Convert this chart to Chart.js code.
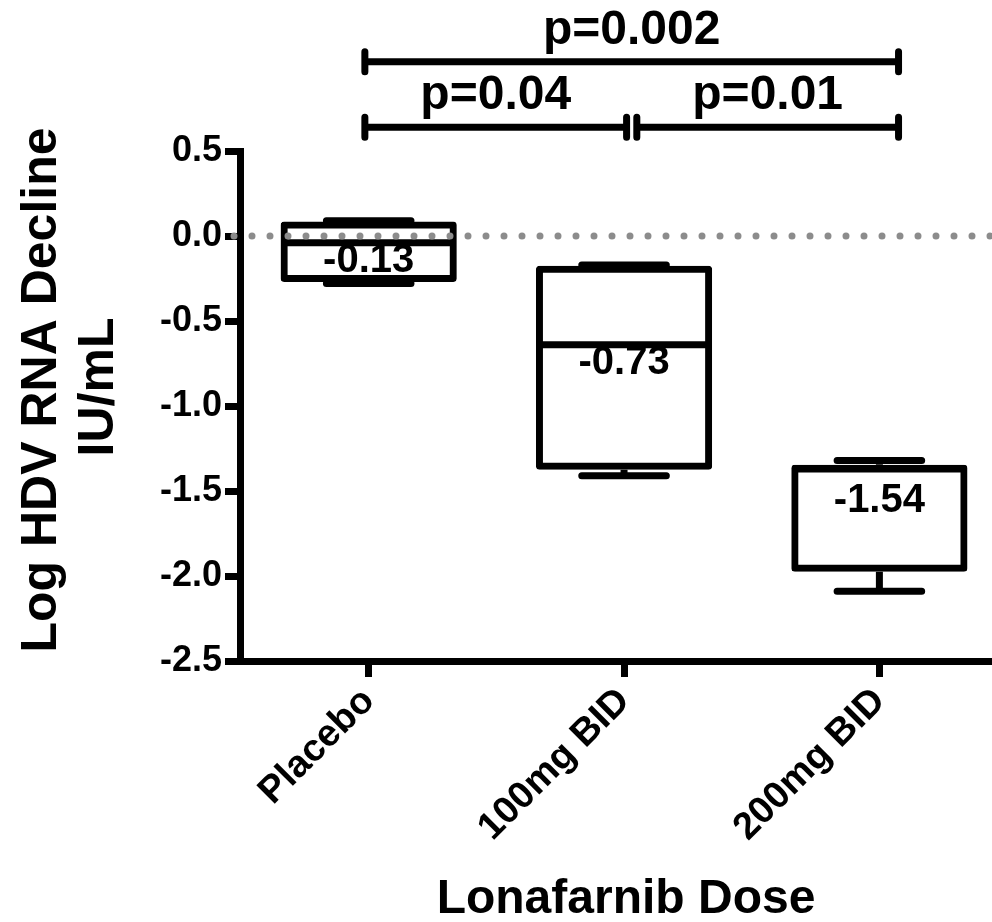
<!DOCTYPE html>
<html>
<head>
<meta charset="utf-8">
<script src="https://cdn.jsdelivr.net/npm/chart.js@4"></script>
<style>
    html, body { margin: 0; padding: 0; background: #fff; }
</style>
</head>
<body>
<canvas id="hdvChart" width="992" height="922"></canvas>
<script>
// Datos
const doses = ['Placebo', '100mg BID', '200mg BID'];
const whiskerMax = [0.09, -0.17, -1.32];
const boxTop = [0.085, -0.175, -1.345];
const medians = [-0.04, -0.64, -1.37];
const boxBottom = [-0.27, -1.375, -1.975];
const whiskerMin = [-0.28, -1.41, -2.09];
const means = [-0.13, -0.73, -1.54];

// Comparaciones (p-values)
const pLabels = ['p=0.04', 'p=0.01', 'p=0.002'];
const pFrom = [0.985, 2.05, 0.985];
const pTo = [2.01, 3.075, 3.075];
const pLevel = [0.64, 0.64, 1.025];

const FONT = '"Liberation Sans", Arial, Helvetica, sans-serif';
Chart.defaults.font.family = FONT;
Chart.defaults.color = '#000';

// Bigotes, medianas, etiquetas y línea punteada
const boxExtras = {
    id: 'boxExtras',
    afterDatasetsDraw(chart) {
        const { ctx, scales: { y }, chartArea } = chart;
        const bars = chart.getDatasetMeta(0).data;
        ctx.save();
        ctx.strokeStyle = '#000';
        ctx.lineWidth = 7;
        bars.forEach((bar, i) => {
            const half = bar.width / 2;
            const top = y.getPixelForValue(boxTop[i]);
            const bot = y.getPixelForValue(boxBottom[i]);
            const hi = y.getPixelForValue(whiskerMax[i]);
            const lo = y.getPixelForValue(whiskerMin[i]);
            const med = y.getPixelForValue(medians[i]);
            const capHalf = bar.width * 0.24;

            ctx.lineCap = 'butt';
            ctx.beginPath();
            ctx.moveTo(bar.x - half + 1, med);
            ctx.lineTo(bar.x + half - 1, med);
            ctx.stroke();

            ctx.beginPath();
            ctx.moveTo(bar.x, top);
            ctx.lineTo(bar.x, hi);
            ctx.moveTo(bar.x, bot);
            ctx.lineTo(bar.x, lo);
            ctx.stroke();

            ctx.lineCap = 'round';
            ctx.beginPath();
            ctx.moveTo(bar.x - capHalf, hi);
            ctx.lineTo(bar.x + capHalf, hi);
            ctx.moveTo(bar.x - capHalf, lo);
            ctx.lineTo(bar.x + capHalf, lo);
            ctx.stroke();

            ctx.fillStyle = '#000';
            ctx.font = 'bold 40px ' + FONT;
            ctx.textAlign = 'center';
            ctx.textBaseline = 'alphabetic';
            ctx.fillText(means[i].toFixed(2), bar.x, y.getPixelForValue(means[i]) + 14);
        });

        // línea de referencia en 0
        const y0 = y.getPixelForValue(0);
        ctx.strokeStyle = '#8c8c8c';
        ctx.lineWidth = 7;
        ctx.lineCap = 'round';
        ctx.setLineDash([0, 18]);
        ctx.beginPath();
        ctx.moveTo(chartArea.left - 6, y0);
        ctx.lineTo(chartArea.right + 10, y0);
        ctx.stroke();
        ctx.restore();
    },
    afterDraw(chart) {
        const { ctx, scales: { x, y } } = chart;
        ctx.save();
        ctx.strokeStyle = '#000';
        ctx.fillStyle = '#000';
        ctx.lineWidth = 7;
        pLabels.forEach((label, i) => {
            const x1 = x.getPixelForValue(pFrom[i]);
            const x2 = x.getPixelForValue(pTo[i]);
            const yb = y.getPixelForValue(pLevel[i]);
            ctx.lineCap = 'butt';
            ctx.beginPath();
            ctx.moveTo(x1, yb);
            ctx.lineTo(x2, yb);
            ctx.stroke();
            ctx.lineCap = 'round';
            ctx.beginPath();
            ctx.moveTo(x1, yb - 10);
            ctx.lineTo(x1, yb + 10);
            ctx.moveTo(x2, yb - 10);
            ctx.lineTo(x2, yb + 10);
            ctx.stroke();
            ctx.font = 'bold 48px ' + FONT;
            ctx.textAlign = 'center';
            ctx.textBaseline = 'alphabetic';
            ctx.fillText(label, (x1 + x2) / 2, yb - 18);
        });

        // títulos de los ejes
        ctx.font = 'bold 50px ' + FONT;
        ctx.textAlign = 'center';
        ctx.textBaseline = 'alphabetic';
        ctx.save();
        ctx.translate(56, 390);
        ctx.rotate(-Math.PI / 2);
        ctx.fillText('Log HDV RNA Decline', 0, 0);
        ctx.restore();
        ctx.save();
        ctx.translate(113, 387);
        ctx.rotate(-Math.PI / 2);
        ctx.fillText('IU/mL', 0, 0);
        ctx.restore();

        ctx.font = 'bold 48px ' + FONT;
        ctx.fillText('Lonafarnib Dose', 626, 913);
        ctx.restore();
    }
};

const ctx = document.getElementById('hdvChart').getContext('2d');
new Chart(ctx, {
    type: 'bar',
    data: {
        datasets: [{
            label: 'HDV RNA',
            data: doses.map((d, i) => ({ x: i + 1, y: [boxBottom[i], boxTop[i]] })),
            backgroundColor: 'rgba(0,0,0,0)',
            borderColor: '#000',
            borderWidth: 7,
            borderSkipped: false,
            borderRadius: 3.5,
            barPercentage: 0.69,
            categoryPercentage: 1
        }]
    },
    options: {
        responsive: false,
        animation: false,
        layout: { padding: { top: 151, right: 0, bottom: 0, left: 0 } },
        plugins: {
            legend: { display: false },
            tooltip: { enabled: false },
            title: { display: false }
        },
        scales: {
            x: {
                type: 'linear',
                offset: false,
                min: 0.496,
                max: 3.441,
                afterBuildTicks: s => { s.ticks = doses.map((d, i) => ({ value: i + 1 })); },
                afterFit: s => { s.height = 261; },
                ticks: {
                    autoSkip: false,
                    minRotation: 45,
                    maxRotation: 45,
                    padding: 2,
                    font: { size: 38, weight: 'bold' },
                    color: '#000',
                    callback: v => doses[v - 1]
                },
                grid: { offset: false, drawOnChartArea: false, drawTicks: true, tickLength: 16, lineWidth: 7, color: '#000' },
                border: { display: true, width: 7, color: '#000' }
            },
            y: {
                min: -2.5,
                max: 0.5,
                afterFit: s => { s.width = 240; },
                ticks: {
                    stepSize: 0.5,
                    padding: 3,
                    font: { size: 36, weight: 'bold' },
                    color: '#000',
                    callback: v => v.toFixed(1)
                },
                grid: { drawOnChartArea: false, drawTicks: true, tickLength: 15, lineWidth: 7, color: '#000' },
                border: { display: true, width: 7, color: '#000' }
            }
        }
    },
    plugins: [boxExtras]
});
</script>
</body>
</html>
